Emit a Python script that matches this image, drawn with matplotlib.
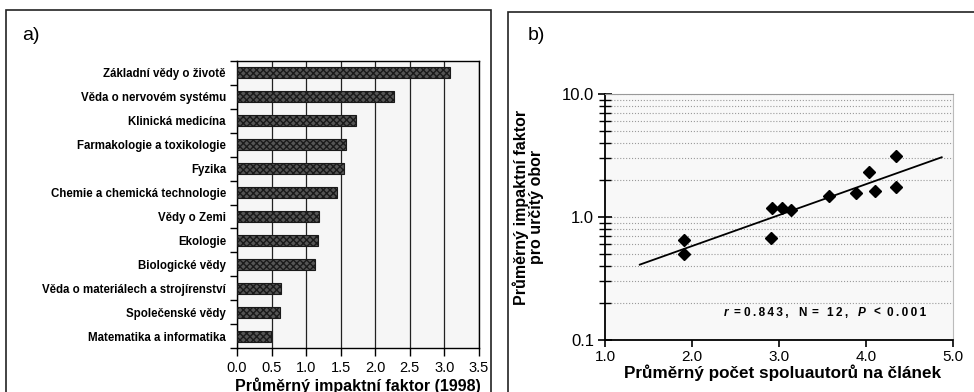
import matplotlib
matplotlib.use("Agg")
import matplotlib.pyplot as plt
import numpy as np
from matplotlib.patches import Rectangle
from matplotlib.ticker import FixedLocator, NullFormatter, LogLocator

plt.rcParams['font.family'] = ['Liberation Sans', 'DejaVu Sans']

# a) mean impact factor by field (1998)
obory = ["Základní vědy o životě", "Věda o nervovém systému", "Klinická medicína",
         "Farmakologie a toxikologie", "Fyzika", "Chemie a chemická technologie",
         "Vědy o Zemi", "Ekologie", "Biologické vědy",
         "Věda o materiálech a strojírenství", "Společenské vědy",
         "Matematika a informatika"]
impakt = [3.08, 2.27, 1.72, 1.57, 1.55, 1.45, 1.19, 1.17, 1.13, 0.64, 0.62, 0.49]
x_ticks_a = [0.0, 0.5, 1.0, 1.5, 2.0, 2.5, 3.0, 3.5]

# b) co-authors per article vs impact factor
spoluautori = [1.91, 1.91, 2.92, 3.03, 3.14, 2.91, 3.57, 3.88, 4.03, 4.10, 4.35, 4.34]
impakt_b = [0.65, 0.50, 1.19, 1.19, 1.14, 0.67, 1.48, 1.58, 2.33, 1.64, 3.13, 1.76]
trend_x = [1.40, 4.87]
trend_y = [0.41, 3.06]
x_ticks_b = [1.0, 2.0, 3.0, 4.0, 5.0]
y_ticks_b = [0.1, 1.0, 10.0]

W, H = 974, 392
fig = plt.figure(figsize=(W / 100, H / 100), dpi=100)

def fx(px):
    return px / W

def fy(py):
    return 1 - py / H

# panel frames
fig.add_artist(Rectangle((fx(6), fy(400)), fx(491 - 6), fy(10) - fy(400),
                         transform=fig.transFigure, fill=False, lw=1.2, ec='#222222'))
fig.add_artist(Rectangle((fx(508), fy(400)), fx(1000 - 508), fy(12) - fy(400),
                         transform=fig.transFigure, fill=False, lw=1.2, ec='#222222'))
fig.text(fx(22), fy(36), "a)", fontsize=14, va='center')
fig.text(fx(528), fy(36), "b)", fontsize=14, va='center')

# ---- panel a ----
ax1 = fig.add_axes([fx(237), fy(348), fx(479 - 237), fy(61) - fy(348)])
ax1.set_facecolor('#f6f6f6')
pos = np.arange(len(obory))
plt.rcParams['hatch.color'] = '#333333'
ax1.barh(pos, impakt, height=0.46, color='#555555', edgecolor='#1a1a1a', lw=0.8,
         hatch='xxxxx', zorder=3)
ax1.set_ylim(len(obory) - 0.5, -0.5)
ax1.set_xlim(0, 3.5)
ax1.set_yticks(pos)
ax1.set_yticklabels(obory, fontweight='bold', fontsize=8.3)
ax1.yaxis.set_minor_locator(FixedLocator(np.arange(-0.5, len(obory), 1.0)))
ax1.tick_params(axis='y', which='major', length=0, pad=8)
ax1.tick_params(axis='y', which='minor', length=5, width=1, direction='out')
ax1.set_xticks(x_ticks_a)
ax1.set_xticklabels([f"{v:.1f}" for v in x_ticks_a], fontsize=10.5)
ax1.tick_params(axis='x', length=6, width=1, direction='out', pad=3)
ax1.grid(axis='x', color='#222222', lw=0.9, zorder=1)
for s in ax1.spines.values():
    s.set_linewidth(1.0)
ax1.set_xlabel("Průměrný impaktní faktor (1998)", fontweight='bold', fontsize=11.5,
               va='center')
ax1.xaxis.set_label_coords(0.498, -0.131)

# ---- panel b ----
ax2 = fig.add_axes([fx(605), fy(340), fx(953 - 605), fy(94) - fy(340)])
ax2.set_facecolor('#f8f8f8')
ax2.set_yscale('log')
ax2.set_xlim(1.0, 5.0)
ax2.set_ylim(0.1, 10.0)
ax2.plot(trend_x, trend_y, color='black', lw=1.3, zorder=3)
ax2.plot(spoluautori, impakt_b, 'D', color='black', ms=6.5, zorder=4)
ax2.set_xticks(x_ticks_b)
ax2.set_xticklabels([f"{v:.1f}" for v in x_ticks_b], fontsize=11)
ax2.set_yticks(y_ticks_b)
ax2.set_yticklabels([f"{v:.1f}" for v in y_ticks_b], fontsize=12)
ax2.yaxis.set_minor_locator(LogLocator(base=10, subs=np.arange(2, 10)))
ax2.yaxis.set_minor_formatter(NullFormatter())
ax2.tick_params(axis='y', which='major', length=10, width=1.2, direction='inout', pad=3)
ax2.tick_params(axis='y', which='minor', length=8, width=1.0, direction='inout')
ax2.tick_params(axis='x', length=5, width=1.2, direction='out', pad=2)
ax2.grid(axis='y', which='both', color='#9a9a9a', ls=':', lw=0.8, zorder=1)
ax2.spines['left'].set_linewidth(1.3)
ax2.spines['bottom'].set_linewidth(1.3)
ax2.spines['top'].set_color('#999999')
ax2.spines['right'].set_color('#bbbbbb')
ax2.set_xlabel("Průměrný počet spoluautorů na článek", fontweight='bold', fontsize=12.3,
               va='center')
ax2.xaxis.set_label_coords(0.509, -0.132)
ax2.set_ylabel("Průměrný impaktní faktor\npro určitý obor", fontweight='bold',
               fontsize=11.5, va='center', linespacing=1.0)
ax2.yaxis.set_label_coords(-0.22, 0.54)

# statistics annotation (letter-spaced like the original)
ts = "\u2009"
sty = dict(transform=ax2.transAxes, fontsize=8.5, fontweight='bold', va='center')
ax2.text(0.340, 0.111, "r", style='italic', **sty)
ax2.text(0.369, 0.111, "=", **sty)
ax2.text(0.400, 0.111, ts.join("0.843,"), **sty)
ax2.text(0.556, 0.111, "N", **sty)
ax2.text(0.592, 0.111, "=", **sty)
ax2.text(0.637, 0.111, ts.join("12,"), **sty)
ax2.text(0.726, 0.111, "P", style='italic', **sty)
ax2.text(0.771, 0.111, "<", **sty)
ax2.text(0.809, 0.111, ts.join("0.001"), **sty)

fig.savefig("out.png", dpi=100)
